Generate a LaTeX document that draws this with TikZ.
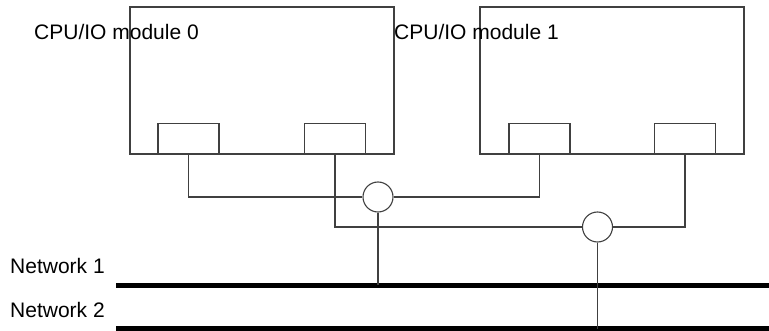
\documentclass[tikz,border=0pt]{standalone}
\usepackage{fontspec}
\setmainfont{Liberation Sans}
\usetikzlibrary{positioning,calc}

\begin{document}
\begin{tikzpicture}[x=1pt,y=-1pt,
  wire/.style={line width=1.1pt, draw=black!75},
  module/.style={wire, rectangle, minimum width=264pt, minimum height=147pt, inner sep=0pt},
  port/.style={wire, rectangle, minimum width=61pt, minimum height=30pt, inner sep=0pt, anchor=south},
  coupler/.style={wire, circle, minimum size=30pt, inner sep=0pt},
  bus/.style={line width=5.5pt, black},
  tag/.style={font=\fontsize{21}{24}\selectfont, inner sep=0pt, anchor=base west}]

% Define vertical positions
\def\modbottom{154}
\def\busone{285.5}
\def\bustwo{329}

\useasboundingbox (0,0) rectangle (769,331);

% CPU/IO modules
\node[module] (mod0) at (262,80.5) {};
\node[module] (mod1) at (612,80.5) {};

% Ports on the bottom edge of each module
\node[port] (p0l) at (188.5,\modbottom) {};
\node[port] (p0r) at (335,\modbottom) {};
\node[port] (p1l) at (539.5,\modbottom) {};
\node[port] (p1r) at (685,\modbottom) {};

% Module labels
\node[tag] (t0) at (34,39.5) {CPU/IO module 0};
\node[tag] (t1) at (394,39.5) {CPU/IO module 1};

% Couplers
\node[coupler] (c1) at (378,197) {};
\node[coupler] (c2) at (597.5,227) {};

% Networks
\coordinate (b1w) at (116,\busone);
\coordinate (b1e) at (769,\busone);
\coordinate (b2w) at (116,\bustwo);
\coordinate (b2e) at (769,\bustwo);
\draw[bus] (b1w) -- (b1e);
\draw[bus] (b2w) -- (b2e);
\node[tag] (net1) at (10,274) {Network 1};
\node[tag] (net2) at (10,317) {Network 2};

% Port to coupler wiring
\draw[wire] (p0l.south) |- (c1.west);
\draw[wire] (c1.east) -| (p1l.south);
\draw[wire] (p0r.south) |- (c2.west);
\draw[wire] (c2.east) -| (p1r.south);

% Couplers down to the networks
\coordinate (tap1) at (c1.south |- b1w);
\coordinate (tap2) at (c2.south |- b2w);
\draw[wire] (c1.south) -- (tap1);
\draw[wire] (c2.south) -- (tap2);

\end{tikzpicture}
\end{document}
